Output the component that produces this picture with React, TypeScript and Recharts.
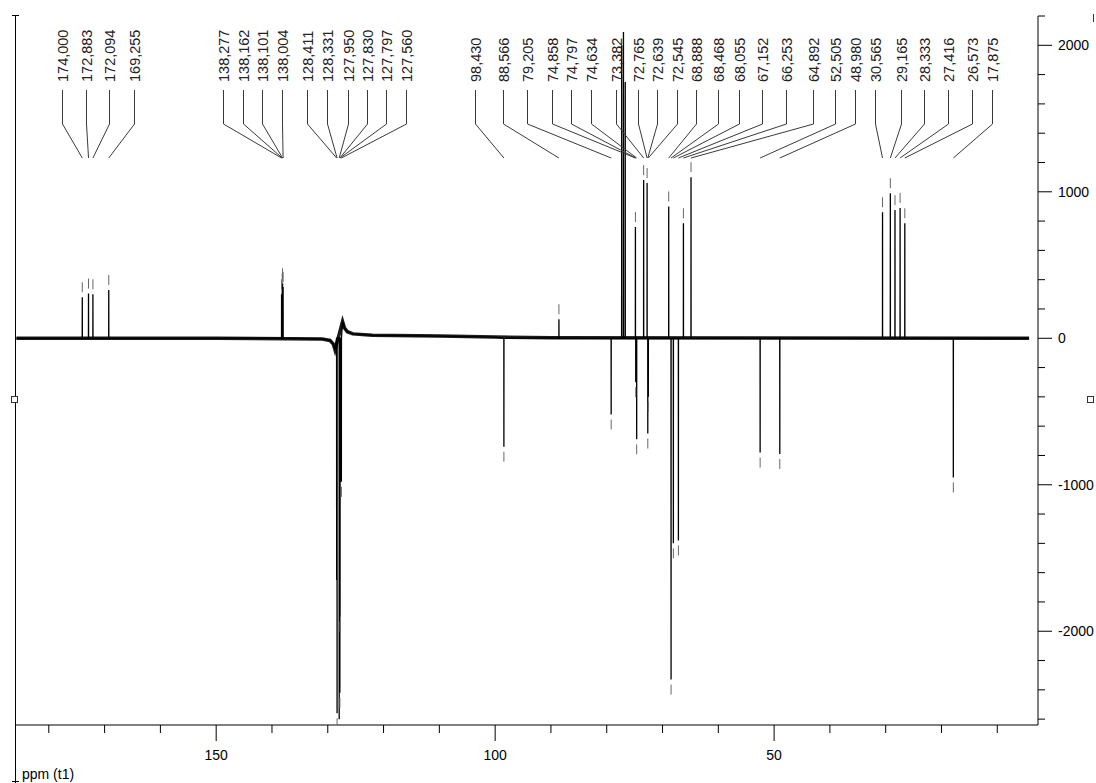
import { LineChart, Line, XAxis, YAxis } from 'recharts'

// labelled peaks (ppm) and their intensities
const PEAK_PPM = [
  174.0, 172.883, 172.094, 169.255,
  138.277, 138.162, 138.101, 138.004,
  128.411, 128.331, 127.95, 127.83, 127.797, 127.56,
  98.43, 88.566, 79.205, 74.858, 74.797, 74.634, 73.382, 72.765, 72.639, 72.545,
  68.888, 68.468, 68.055, 67.152, 66.253, 64.892, 52.505, 48.98,
  30.565, 29.165, 28.333, 27.416, 26.573, 17.875,
]
const PEAK_HEIGHT = [
  280, 305, 300, 330,
  300, 340, 375, 350,
  -1650, -2560, -2600, -2420, -1900, -980,
  -740, 130, -520, 760, -300, -690, 1080, 1060, -650, -400,
  900, -2330, -1400, -1380, 785, 1100, -780, -790,
  860, 990, 875, 890, 785, -950,
]
const PEAK_LABELS = PEAK_PPM.map((p) => p.toFixed(3).replace('.', ','))

// CDCl3 triplet, not labelled
const SOLVENT_PPM = [77.32, 77.0, 76.68]
const SOLVENT_HEIGHT = [2000, 2090, 1750]

// baseline drift around the aromatic CH region
const BASELINE_PPM = [185.8, 150, 131, 129.6, 129.0, 128.7, 127.35, 127.0, 126.5, 125.5, 122, 110, 100, 90, 4.3]
const BASELINE_VALUE = [0, 0, -5, -15, -40, -80, 115, 70, 45, 30, 20, 15, 8, 3, 0]

const X_TICKS = [180, 170, 160, 150, 140, 130, 120, 110, 100, 90, 80, 70, 60, 50, 40, 30, 20, 10]
const X_LABELED = [150, 100, 50]
const Y_TICKS = [
  -2600, -2400, -2200, -2000, -1800, -1600, -1400, -1200, -1000, -800, -600, -400, -200,
  0, 200, 400, 600, 800, 1000, 1200, 1400, 1600, 1800, 2000, 2200,
]
const Y_LABELED = [2000, 1000, 0, -1000, -2000]

// layout: horizontal position (px) of each peak label
const LABEL_X = [
  62, 86, 109, 134,
  223, 243, 262, 282,
  307, 327, 348, 367, 386, 406,
  475, 503, 527, 552, 571, 591, 616, 638, 657, 677,
  696, 718, 739, 762, 786, 813, 835, 855,
  875, 901, 924, 948, 972, 992,
]

const FONT = '"Liberation Sans", Arial, sans-serif'

type Pt = { ppm: number; v: number; band?: number; label?: number }

const points: Pt[] = []
BASELINE_PPM.forEach((p, i) => points.push({ ppm: p, v: BASELINE_VALUE[i], band: BASELINE_VALUE[i] }))
PEAK_PPM.forEach((p, i) => {
  points.push({ ppm: p + 0.012, v: 0 })
  points.push({ ppm: p, v: PEAK_HEIGHT[i], label: i })
  points.push({ ppm: p - 0.012, v: 0 })
})
SOLVENT_PPM.forEach((p, i) => {
  points.push({ ppm: p + 0.012, v: 0 })
  points.push({ ppm: p, v: SOLVENT_HEIGHT[i] })
  points.push({ ppm: p - 0.012, v: 0 })
})
const data = points.sort((a, b) => b.ppm - a.ppm)

const renderTip = (props: any) => {
  const { cx, cy, payload, index } = props
  const i = payload?.label
  if (i === undefined || cx == null) return <g key={`d${index}`} />
  const up = PEAK_HEIGHT[i] > 0
  const lx = LABEL_X[i] + 0.5
  return (
    <g key={`d${index}`}>
      <line x1={cx} x2={cx} y1={up ? cy - 5 : cy + 5} y2={up ? cy - 15 : cy + 15} stroke="#666" />
      <polyline points={`${lx},90 ${lx},124 ${cx},158`} fill="none" stroke="#3a3a3a" />
      <text
        x={lx + 5}
        y={82}
        transform={`rotate(-90 ${lx + 5} 82)`}
        fontSize={14.5}
        fontFamily={FONT}
        fill="#222"
      >
        {PEAK_LABELS[i]}
      </text>
    </g>
  )
}

const XTick = ({ x, y, payload }: any) => {
  const major = X_LABELED.includes(payload.value)
  return (
    <g>
      <line x1={x} x2={x} y1={y} y2={y + (major ? 16 : 8)} stroke="#000" />
      {major && (
        <text x={x} y={y + 35} textAnchor="middle" fontSize={14} fontFamily={FONT} fill="#000">
          {payload.value}
        </text>
      )}
    </g>
  )
}

const YTick = ({ x, y, payload }: any) => {
  const major = Y_LABELED.includes(payload.value)
  return (
    <g>
      <line x1={x} x2={x + (major ? 14 : 7)} y1={y} y2={y} stroke="#000" />
      {major && (
        <text x={x + 20} y={y + 5} fontSize={14} fontFamily={FONT} fill="#000">
          {payload.value}
        </text>
      )}
    </g>
  )
}

export default function App() {
  return (
    <div style={{ position: 'absolute', left: 0, top: 0, width: 1096, height: 783, background: '#fff' }}>
      <LineChart
        width={1096}
        height={783}
        data={data}
        margin={{ top: 16, right: 0, left: 15, bottom: 0 }}
        style={{ fontFamily: FONT }}
      >
        <XAxis
          dataKey="ppm"
          type="number"
          domain={[2.7, 186.06]}
          reversed
          allowDataOverflow
          ticks={X_TICKS}
          interval={0}
          height={58}
          tickSize={0}
          tickMargin={0}
          tickLine={false}
          axisLine={{ stroke: '#000' }}
          tick={(p: any) => <XTick {...p} />}
        />
        <YAxis
          orientation="right"
          type="number"
          domain={[-2640, 2200]}
          allowDataOverflow
          ticks={Y_TICKS}
          interval={0}
          width={58}
          tickSize={0}
          tickMargin={0}
          tickLine={false}
          axisLine={{ stroke: '#000' }}
          tick={(p: any) => <YTick {...p} />}
        />
        <Line
          dataKey="band"
          type="linear"
          stroke="#1c1c1c"
          strokeWidth={3.5}
          dot={false}
          connectNulls
          isAnimationActive={false}
        />
        <Line
          dataKey="v"
          type="linear"
          stroke="#000"
          strokeWidth={1.3}
          dot={renderTip}
          activeDot={false}
          isAnimationActive={false}
        />
      </LineChart>
      <svg
        width={1096}
        height={783}
        style={{ position: 'absolute', left: 0, top: 0, pointerEvents: 'none' }}
      >
        <line x1={15.5} x2={15.5} y1={15} y2={783} stroke="#000" />
        <line x1={12} x2={19} y1={15.5} y2={15.5} stroke="#000" />
        <line x1={12} x2={19} y1={781.5} y2={781.5} stroke="#000" />
        <rect x={11.5} y={396.5} width={6} height={6} fill="#fff" stroke="#333" />
        <rect x={1087.5} y={396.5} width={6} height={6} fill="#fff" stroke="#333" />
        <line x1={1093.5} x2={1093.5} y1={14} y2={22} stroke="#333" />
        <text x={22} y={779} fontSize={14} fontFamily={FONT} fill="#000">
          ppm (t1)
        </text>
      </svg>
    </div>
  )
}
